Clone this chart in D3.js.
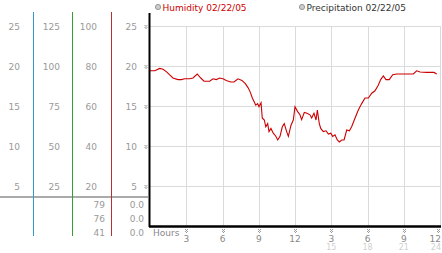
<!DOCTYPE html>
<html>

<head>
  <meta charset="utf-8" />
  <title>Humidity</title>
  <style>
    body { margin: 0; background: #fff; }
    text { font-family: "DejaVu Sans", Verdana, sans-serif; font-size: 9px; }
  </style>
  <script src="https://cdnjs.cloudflare.com/ajax/libs/d3/7.8.5/d3.min.js"></script>
</head>

<body>
  <div id="chartArea"></div>
  <script>
    // values
    var hours = [0, 0.4, 0.8, 1.08, 1.35, 1.63, 1.9, 2.32, 2.59, 2.87, 3.29, 3.56, 3.91, 4.2, 4.47, 4.94,
      5.21, 5.49, 5.77, 6.04, 6.31, 6.68, 6.95, 7.28, 7.61, 7.89, 8.11, 8.28, 8.47, 8.63, 8.75, 8.91,
      9.02, 9.19, 9.29, 9.46, 9.58, 9.74, 9.85, 10.01, 10.2, 10.4, 10.57, 10.76, 10.95, 11.11, 11.31,
      11.45, 11.67, 11.86, 12.0, 12.22, 12.41, 12.55, 12.77, 12.99, 13.24, 13.38, 13.57, 13.74, 13.85,
      14.01, 14.13, 14.34, 14.57, 14.76, 14.96, 15.12, 15.31, 15.5, 15.67, 15.87, 16.06, 16.28, 16.5,
      16.69, 16.97, 17.24, 17.52, 17.79, 18.07, 18.35, 18.62, 18.89, 19.09, 19.31, 19.53, 19.8, 20.09,
      20.42, 21.79, 22.07, 22.35, 22.9, 23.5, 23.73];
    var humidity = [19.4, 19.4, 19.7, 19.6, 19.3, 18.9, 18.5, 18.3, 18.3, 18.4, 18.4, 18.5, 19.0, 18.5, 18.1, 18.1,
      18.4, 18.3, 18.5, 18.4, 18.2, 18.0, 18.0, 18.4, 18.2, 17.8, 17.3, 16.8, 16.0, 15.5, 15.1, 15.3,
      14.9, 15.4, 13.5, 13.25, 12.4, 12.8, 11.8, 12.2, 11.6, 11.25, 10.75, 11.2, 12.4, 12.8, 11.8,
      11.2, 12.6, 13.25, 14.9, 14.3, 13.9, 13.3, 14.2, 14.1, 13.9, 13.5, 14.1, 13.25, 14.5,
      12.8, 12.2, 11.8, 11.9, 11.5, 11.6, 11.2, 11.4, 10.75, 10.5, 10.75, 10.75, 12.0, 11.9,
      12.4, 13.5, 14.5, 15.3, 16.0, 16.0, 16.6, 16.9, 17.6, 18.3, 18.75, 18.3, 18.3, 18.9,
      19.0, 19.0, 19.4, 19.25, 19.2, 19.2, 19.0];

    var yTicks = [5, 10, 15, 20, 25];
    var col1Labels = ["5", "10", "15", "20", "25"];
    var col2Labels = ["25", "50", "75", "100", "125"];
    var col3Labels = ["20", "40", "60", "80", "100"];
    var col4Labels = ["5", "10", "15", "20", "25"];
    var currentA = ["79", "76", "41"];
    var currentB = ["0.0", "0.0", "0.0"];
    var xTicks = [3, 6, 9, 12, 15, 18, 21, 24];
    var xLabels = ["3", "6", "9", "12", "3", "6", "9", "12"];
    var xLabels2 = ["", "", "", "", "15", "18", "21", "24"];
    var legendNames = ["Humidity 02/22/05", "Precipitation 02/22/05"];

    var W = 442, H = 253;
    var x = d3.scaleLinear().domain([0, 24]).range([150, 440]);
    var y = d3.scaleLinear().domain([0, 25]).range([226, 26]);

    var svg = d3.select('#chartArea').append('svg')
      .attr('width', W).attr('height', H);

    // small hatch mark used as tick
    function mark(g, cx, cy) {
      var pts = [[-1, -2], [1, -2], [0, -1], [-1, 0], [1, 0], [0, 1]];
      pts.forEach(p => {
        g.append('rect').attr('x', cx + p[0] - 0.5).attr('y', cy + p[1])
          .attr('width', 1).attr('height', 1).attr('fill', '#999');
      });
    }

    // grid
    var grid = svg.append('g');
    grid.selectAll('line.h').data(yTicks).enter().append('line')
      .attr('x1', x(0)).attr('x2', x(24))
      .attr('y1', d => y(d) + 0.5).attr('y2', d => y(d) + 0.5)
      .attr('stroke', '#dadada');
    grid.selectAll('line.v').data(xTicks).enter().append('line')
      .attr('x1', d => Math.round(x(d)) + 0.5).attr('x2', d => Math.round(x(d)) + 0.5)
      .attr('y1', y(25)).attr('y2', y(0))
      .attr('stroke', '#dadada');

    // left panel
    var left = svg.append('g');
    left.append('line').attr('x1', 0).attr('x2', 148).attr('y1', 197).attr('y2', 197)
      .attr('stroke', '#aaa').attr('stroke-width', 2);
    [[33, '#3399cc'], [72, '#33a033'], [111, '#b83030']].forEach(c => {
      left.append('line').attr('x1', c[0] + 0.5).attr('x2', c[0] + 0.5)
        .attr('y1', 12).attr('y2', 236).attr('stroke', c[1]);
    });
    var cols = [[col1Labels, 20], [col2Labels, 60], [col3Labels, 97], [col4Labels, 137]];
    cols.forEach(c => {
      left.selectAll(null).data(yTicks).enter().append('text')
        .attr('x', c[1]).attr('y', d => y(d) + 3.5)
        .attr('text-anchor', 'end').attr('fill', '#999')
        .text((d, i) => c[0][i]);
    });
    var rowY = [204, 218.5, 232.5];
    left.selectAll(null).data(currentA).enter().append('text')
      .attr('x', 105).attr('y', (d, i) => rowY[i] + 3.5)
      .attr('text-anchor', 'end').attr('fill', '#999').text(d => d);
    left.selectAll(null).data(currentB).enter().append('text')
      .attr('x', 144).attr('y', (d, i) => rowY[i] + 3.5)
      .attr('text-anchor', 'end').attr('fill', '#999').text(d => d);

    yTicks.forEach(d => mark(svg, 146, y(d) + 1));

    // humidity line
    var line = d3.line()
      .x((d, i) => x(hours[i]))
      .y(d => y(d));
    svg.append('path').datum(humidity)
      .attr('d', line)
      .attr('fill', 'none')
      .attr('stroke', '#cc0000')
      .attr('stroke-width', 1.1);

    // axes
    svg.append('line').attr('x1', 149.5).attr('x2', 149.5).attr('y1', 13).attr('y2', 227)
      .attr('stroke', '#000').attr('stroke-width', 2);
    svg.append('line').attr('x1', 149).attr('x2', 441).attr('y1', 226.5).attr('y2', 226.5)
      .attr('stroke', '#000').attr('stroke-width', 2.5);

    // x labels
    svg.append('text').attr('x', 153).attr('y', 235.5).attr('fill', '#888').text('Hours');
    xTicks.forEach(d => mark(svg, Math.min(Math.round(x(d)) + 0.5, 438.5), 231));
    var anchorOf = d => d === 24 ? 'end' : 'middle';
    var posOf = d => d === 24 ? 441 : x(d);
    svg.selectAll(null).data(xTicks).enter().append('text')
      .attr('x', posOf).attr('y', 241.5)
      .attr('text-anchor', anchorOf).attr('fill', '#888')
      .text((d, i) => xLabels[i]);
    svg.selectAll(null).data(xTicks).enter().append('text')
      .attr('x', posOf).attr('y', 250)
      .attr('text-anchor', anchorOf).attr('fill', '#d0d0d0')
      .style('font-size', '8px')
      .text((d, i) => xLabels2[i]);

    // legend
    var legX = [158, 302], legColor = ['#cc0000', '#333'];
    legendNames.forEach((n, i) => {
      svg.append('circle').attr('cx', legX[i]).attr('cy', 7).attr('r', 2.6)
        .attr('fill', '#ccc').attr('stroke', '#999');
      svg.append('text').attr('x', legX[i] + 4.5).attr('y', 10.5)
        .attr('fill', legColor[i]).text(n);
    });
  </script>
</body>

</html>
